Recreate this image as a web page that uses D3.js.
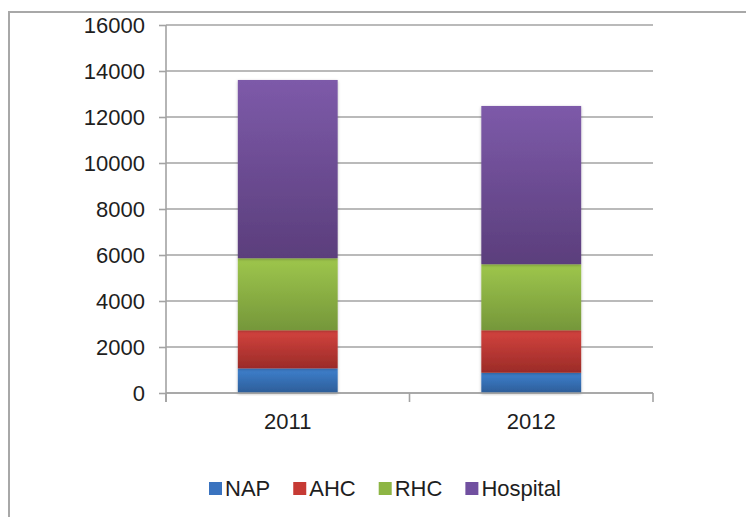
<!DOCTYPE html>
<html>
<head>
<meta charset="utf-8">
<script src="https://cdn.jsdelivr.net/npm/d3@7/dist/d3.min.js"></script>
<style>
  html, body { margin: 0; padding: 0; background: #fff; }
  svg { display: block; }
  text { font-family: "Liberation Sans", Arial, sans-serif; fill: #1e1e1e; }
</style>
</head>
<body>
<svg id="chart" width="746" height="517"></svg>
<script>
const years = ["2011", "2012"];
const seriesNames = ["NAP", "AHC", "RHC", "Hospital"];
const NAP = [1070, 880];
const AHC = [1660, 1850];
const RHC = [3130, 2870];
const Hospital = [7750, 6880];
const yTicks = [0, 2000, 4000, 6000, 8000, 10000, 12000, 14000, 16000];

const seriesValues = [NAP, AHC, RHC, Hospital];
const gradTop = ["#3e80ce", "#d3433e", "#9ec64c", "#7d5aa9"];
const gradBot = ["#2d5d98", "#9b2b28", "#75973a", "#5b3e7c"];
const legendColor = ["#3a73bf", "#c63a34", "#8db544", "#7150a0"];
const FS = "22px";

const svg = d3.select("#chart");
const defs = svg.append("defs");
seriesNames.forEach((s, i) => {
  const g = defs.append("linearGradient").attr("id", "g" + i)
    .attr("x1", 0).attr("y1", 0).attr("x2", 0).attr("y2", 1);
  g.append("stop").attr("offset", "0%").attr("stop-color", gradTop[i]);
  g.append("stop").attr("offset", "100%").attr("stop-color", gradBot[i]);
});
const f = defs.append("filter").attr("id", "shadow")
  .attr("x", "-20%").attr("y", "-10%").attr("width", "140%").attr("height", "120%");
f.append("feDropShadow").attr("dx", 0).attr("dy", 1).attr("stdDeviation", 1.6)
  .attr("flood-color", "#000").attr("flood-opacity", 0.28);

// outer frame
svg.append("path").attr("d", "M9,520 L9,12 L750,12")
  .attr("fill", "none").attr("stroke", "#a8a8a8").attr("stroke-width", 2);

const x = d3.scaleBand().domain(years).range([166, 653]).padding(0);
const y = d3.scaleLinear().domain([0, 16000]).range([393, 25]);
const barW = x.bandwidth() * 0.41;

// gridlines
svg.append("g").selectAll("line").data(yTicks).join("line")
  .attr("x1", 166).attr("x2", 653)
  .attr("y1", d => y(d)).attr("y2", d => y(d))
  .attr("stroke", "#a3a3a3").attr("stroke-width", 1.6);

// y axis
const yAxis = svg.append("g").attr("transform", "translate(166,0)")
  .call(d3.axisLeft(y).tickValues(yTicks).tickSize(7).tickPadding(14).tickFormat(d3.format("d")));
yAxis.select(".domain").remove();
yAxis.selectAll(".tick line").attr("stroke", "#a3a3a3").attr("stroke-width", 1.6);
yAxis.selectAll(".tick text").style("font-size", FS).style("font-family", "Liberation Sans, Arial, sans-serif").attr("fill", "#1e1e1e");
svg.append("line").attr("x1", 166).attr("x2", 166).attr("y1", y(16000)).attr("y2", 402)
  .attr("stroke", "#a3a3a3").attr("stroke-width", 1.6);

// stacked bars
const rows = years.map((yr, j) => {
  const o = { year: yr };
  seriesNames.forEach((s, i) => o[s] = seriesValues[i][j]);
  return o;
});
const stacked = d3.stack().keys(seriesNames)(rows);
const barG = svg.append("g");
stacked.forEach((layer, i) => {
  barG.append("g").selectAll("rect").data(layer).join("rect")
    .attr("x", d => x(d.data.year) + (x.bandwidth() - barW) / 2)
    .attr("width", barW)
    .attr("y", d => y(d[1]))
    .attr("height", d => y(d[0]) - y(d[1]))
    .attr("fill", "url(#g" + i + ")")
    .attr("filter", "url(#shadow)");
});

// x axis
svg.append("line").attr("x1", 166).attr("x2", 653).attr("y1", y(0)).attr("y2", y(0))
  .attr("stroke", "#a3a3a3").attr("stroke-width", 1.6);
const boundaries = [x.range()[0]].concat(years.map(yr => x(yr) + x.bandwidth()));
svg.append("g").selectAll("line").data(boundaries).join("line")
  .attr("x1", d => d).attr("x2", d => d).attr("y1", y(0)).attr("y2", 402)
  .attr("stroke", "#a3a3a3").attr("stroke-width", 1.6);
const xAxis = svg.append("g").attr("transform", "translate(0,393)")
  .call(d3.axisBottom(x).tickSize(0).tickPadding(20));
xAxis.select(".domain").remove();
xAxis.selectAll(".tick text").style("font-size", FS).style("font-family", "Liberation Sans, Arial, sans-serif").attr("fill", "#1e1e1e");

// legend
const leg = svg.append("g");
let lx = 209;
seriesNames.forEach((s, i) => {
  leg.append("rect").attr("x", lx).attr("y", 482).attr("width", 13).attr("height", 13)
    .attr("fill", legendColor[i]);
  const t = leg.append("text").attr("x", lx + 16).attr("y", 496)
    .style("font-size", FS).text(s);
  lx += 16 + t.node().getComputedTextLength() + 23;
});
</script>
</body>
</html>
